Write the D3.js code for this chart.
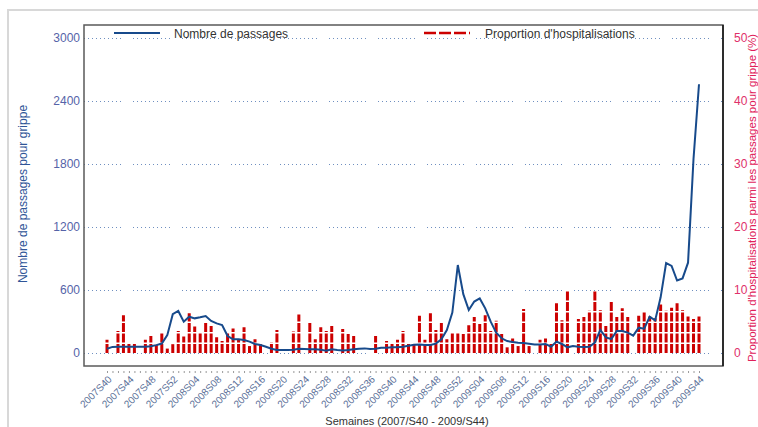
<!DOCTYPE html>
<html>
<head>
<meta charset="utf-8">
<script src="https://cdn.jsdelivr.net/npm/d3@7"></script>
<style>
    body { margin: 0; background: #fff; }
    svg { display: block; font-family: "Liberation Sans", Arial, sans-serif; }
</style>
</head>
<body>
<script>
// semaines 2007S40 -> 2009S44
var firstWeek = [2007, 40]
var lastWeek = [2009, 44]
var weeksPerYear = { 2007: 52, 2008: 52, 2009: 53 }

// nombre de passages pour grippe (par semaine)
var passages = [40, 58, 60, 60, 60, 60, 60, 60, 65, 75,
    90, 170, 370, 400, 298, 346, 330, 340, 352, 305,
    282, 267, 162, 130, 130, 124, 108, 86, 76, 60,
    41, 29, 29, 29, 32, 40, 38, 35, 35, 32,
    22, 35, 29, 25, 29, 35, 41, 44, 38, 41,
    51, 51, 54, 54, 60, 70, 79, 82, 76, 76,
    89, 130, 219, 385, 838, 560, 409, 490, 520, 425,
    298, 194, 140, 114, 105, 98, 95, 88, 82, 82,
    86, 60, 108, 86, 54, 67, 60, 57, 60, 100,
    219, 149, 133, 209, 209, 194, 165, 241, 232, 345,
    310, 530, 857, 830, 690, 710, 860, 1850, 2560]

// proportion d'hospitalisations (%), null = pas de barre
var hospit = [2.1, null, 3.5, 6.0, 1.6, 1.5, null, 2.1, 2.7, 1.3,
    3.3, 0.7, 1.4, 3.5, 2.6, 6.3, 4.2, 3.1, 5.0, 4.3,
    2.5, 1.9, 3.3, 3.9, 2.1, 4.1, 1.1, 2.2, 1.4, null,
    1.7, 3.65, null, null, 3.4, 6.1, null, 4.9, 2.2, 4.1,
    3.5, 4.3, null, 3.8, 3.0, 2.7, null, null, null, 2.7,
    null, 1.9, 1.5, 2.1, 3.5, 1.5, 1.4, 5.9, 2.1, 6.3,
    3.65, 4.8, 2.2, 3.2, 3.2, 3.0, 4.4, 5.7, 4.6, 6.0,
    3.5, 5.1, 3.0, 0.9, 2.3, 1.1, 7.0, 1.1, null, 2.1,
    2.3, 1.5, 7.9, 5.2, 9.9, null, 5.4, 5.7, 6.7, 9.9,
    6.8, 4.3, 8.1, 5.7, 7.1, 5.7, null, 5.9, 6.6, 5.8,
    5.5, 7.7, 6.7, 7.2, 7.9, 6.8, 5.8, 5.4, 5.8]

var leftTicks = [0, 600, 1200, 1800, 2400, 3000]
var rightTicks = [0, 10, 20, 30, 40, 50]

var W = 758, H = 427
var pLeft = 84, pRight = 723, pTop = 25, pBottom = 366

// liste des semaines
var weeks = []
var yr = firstWeek[0], wk = firstWeek[1]
while (yr < lastWeek[0] || (yr == lastWeek[0] && wk <= lastWeek[1])) {
    weeks.push(yr + 'S' + (wk < 10 ? '0' + wk : wk))
    wk++
    if (wk > weeksPerYear[yr]) { wk = 1; yr++ }
}
var labelWeeks = weeks.filter(function (d, i) { return i % 4 == 0 })

var svg = d3.select('body').append('svg')
    .attr('width', W)
    .attr('height', H)

// cadre exterieur
svg.append('rect')
    .attr('x', 8).attr('y', 10)
    .attr('width', W + 20).attr('height', H + 20)
    .attr('fill', 'none')
    .attr('stroke', '#d8d8d8')
    .attr('stroke-width', 2)

var x = d3.scalePoint().domain(weeks).range([107, 699])
var yL = d3.scaleLinear().domain([0, 3000]).range([353, 38])
var yR = d3.scaleLinear().domain([0, 50]).range([353, 38])

// grille pointillee
var grid = svg.append('g')
    .attr('transform', 'translate(' + pLeft + ',0)')
    .call(d3.axisLeft(yL).tickValues(leftTicks).tickSize(-(pRight - pLeft)).tickFormat(''))
grid.select('.domain').remove()
grid.selectAll('line')
    .attr('stroke', '#6f8fc0')
    .attr('stroke-width', 1)
    .attr('stroke-dasharray', '1 3 1 3 1 3 1 3 1 3 1 3 1 3 1 3 1 3 1 12')

// barres hospitalisations
svg.append('g').selectAll('line')
    .data(weeks.filter(function (d, i) { return hospit[i] != null }))
    .enter().append('line')
    .attr('x1', function (d) { return x(d) })
    .attr('x2', function (d) { return x(d) })
    .attr('y1', yR(0))
    .attr('y2', function (d) { return yR(hospit[weeks.indexOf(d)]) })
    .attr('stroke', '#cc0000')
    .attr('stroke-width', 3)
    .attr('stroke-dasharray', '9 1.5')

// courbe passages
var line = d3.line()
    .x(function (d, i) { return x(weeks[i]) })
    .y(function (d) { return yL(d) })
svg.append('path')
    .datum(passages)
    .attr('d', line)
    .attr('fill', 'none')
    .attr('stroke', '#174a8b')
    .attr('stroke-width', 2)

// cadre du graphique
svg.append('rect')
    .attr('x', pLeft).attr('y', pTop)
    .attr('width', pRight - pLeft).attr('height', pBottom - pTop)
    .attr('fill', 'none')
    .attr('stroke', '#5a5a5a')
    .attr('stroke-width', 1.5)
svg.append('line')
    .attr('x1', pRight).attr('x2', pRight)
    .attr('y1', pTop).attr('y2', pBottom)
    .attr('stroke', '#111')
    .attr('stroke-width', 1.5)

// axe gauche
var axL = svg.append('g')
    .attr('transform', 'translate(' + (pLeft - 4) + ',0)')
    .call(d3.axisLeft(yL).tickValues(leftTicks).tickSize(0).tickPadding(0).tickFormat(d3.format('d')))
axL.select('.domain').remove()
axL.selectAll('text')
    .attr('fill', '#5563a8')
    .style('font-size', '12px')

// axe droit
var axR = svg.append('g')
    .attr('transform', 'translate(' + (pRight + 11) + ',0)')
    .call(d3.axisRight(yR).tickValues(rightTicks).tickSize(0).tickPadding(0))
axR.select('.domain').remove()
axR.selectAll('text')
    .attr('fill', '#e0306a')
    .style('font-size', '12px')

// axe des semaines
var axX = svg.append('g')
    .attr('transform', 'translate(0,' + 371 + ')')
    .call(d3.axisBottom(x).tickValues(weeks).tickSize(2)
        .tickFormat(function (d) { return labelWeeks.indexOf(d) >= 0 ? d : '' }))
axX.select('.domain').remove()
axX.selectAll('line').attr('stroke', '#9a9a9a')
axX.selectAll('text')
    .attr('fill', '#5a6f98')
    .style('font-size', '10px')
    .attr('text-anchor', 'end')
    .attr('dy', null)
    .attr('y', null)
    .attr('transform', 'translate(5,9) rotate(-45)')

// titres des axes
svg.append('text')
    .attr('transform', 'translate(27,194) rotate(-90)')
    .attr('text-anchor', 'middle')
    .attr('fill', '#2f5597')
    .style('font-size', '12px')
    .text('Nombre de passages pour grippe')

svg.append('text')
    .attr('transform', 'translate(756,198) rotate(-90)')
    .attr('text-anchor', 'middle')
    .attr('fill', '#e0205a')
    .style('font-size', '11.5px')
    .text("Proportion d'hospitalisations parmi les passages pour grippe (%)")

svg.append('text')
    .attr('x', 407).attr('y', 425)
    .attr('text-anchor', 'middle')
    .attr('fill', '#333')
    .style('font-size', '11px')
    .text('Semaines (2007/S40 - 2009/S44)')

// legende
var leg = svg.append('g')
leg.append('line')
    .attr('x1', 114).attr('x2', 160).attr('y1', 33).attr('y2', 33)
    .attr('stroke', '#174a8b').attr('stroke-width', 2)
leg.append('text')
    .attr('x', 174).attr('y', 38)
    .attr('fill', '#333')
    .style('font-size', '12px')
    .text('Nombre de passages')
leg.append('line')
    .attr('x1', 424).attr('x2', 470).attr('y1', 33).attr('y2', 33)
    .attr('stroke', '#cc0000').attr('stroke-width', 2.5)
    .attr('stroke-dasharray', '12 3')
leg.append('text')
    .attr('x', 485).attr('y', 38)
    .attr('fill', '#333')
    .style('font-size', '12px')
    .text("Proportion d'hospitalisations")
</script>
</body>
</html>
